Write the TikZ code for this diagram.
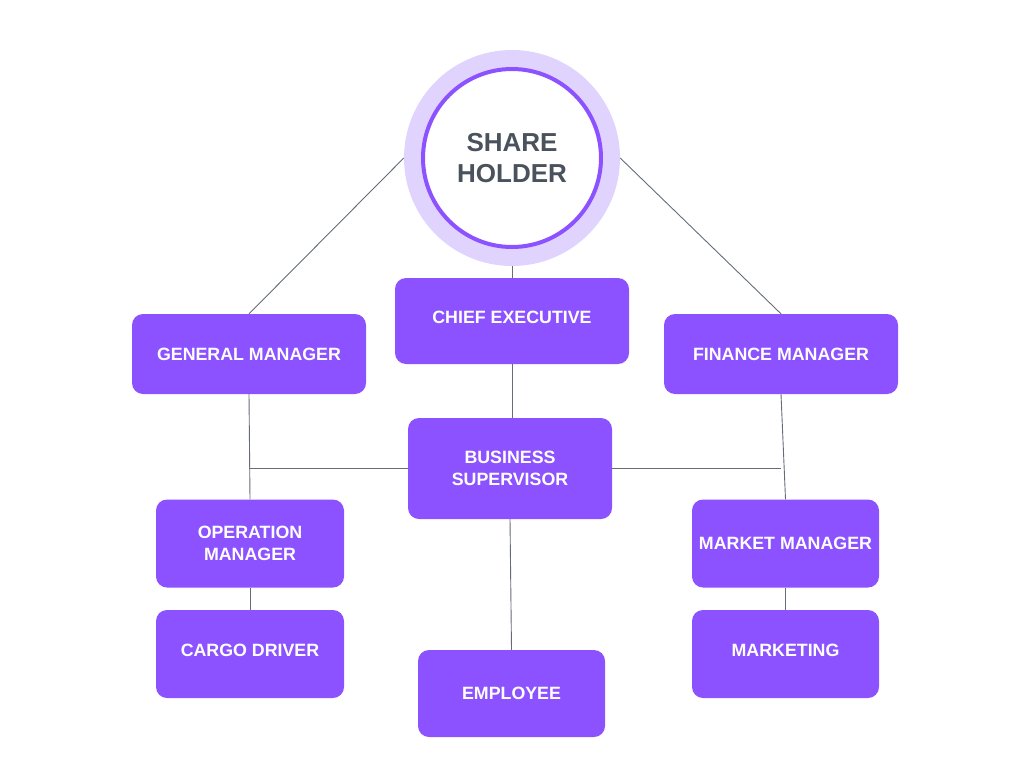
\documentclass[tikz,border=0pt]{standalone}
\usepackage{fontspec}
\setmainfont{Liberation Sans}
\definecolor{boxpurple}{HTML}{8C52FF}
\definecolor{ringlav}{HTML}{E0D4FF}
\definecolor{headgray}{HTML}{4A525D}
\definecolor{linegray}{HTML}{656C75}
\begin{document}
\begin{tikzpicture}[x=1pt,y=-1pt,
  orgbox/.style={fill=boxpurple, rounded corners=11pt, draw=none, text=white,
    font=\fontsize{17.8}{22}\selectfont\bfseries, align=center, inner sep=0pt},
  onebox/.style={orgbox, text height=12.5pt, text depth=8pt},
  conn/.style={draw=linegray, line width=0.9pt}]
\useasboundingbox (0,0) rectangle (1024,768);
% share holder
\fill[ringlav] (512,158) circle (108);
\node[circle, minimum size=216pt, inner sep=0pt] (sh) at (512,158) {};
\node[circle, fill=white, draw=boxpurple, line width=4pt, minimum size=178pt, inner sep=0pt,
  text=headgray, font=\fontsize{26}{31}\selectfont\bfseries, align=center] (shin) at (512,158) {SHARE\\HOLDER};
% boxes
\node[onebox, minimum width=234pt, minimum height=86pt] (ce) at (512,321) {CHIEF EXECUTIVE};
\node[orgbox, minimum width=234pt, minimum height=80pt] (gm) at (249,354) {GENERAL MANAGER};
\node[orgbox, minimum width=234pt, minimum height=80pt] (fm) at (781,354) {FINANCE MANAGER};
\node[orgbox, minimum width=204pt, minimum height=101pt] (bs) at (510,468.5) {BUSINESS\\SUPERVISOR};
\node[orgbox, minimum width=188pt, minimum height=88pt] (om) at (250,543.5) {OPERATION\\MANAGER};
\node[onebox, minimum width=188pt, minimum height=88pt] (cd) at (250,654) {CARGO DRIVER};
\node[orgbox, minimum width=187pt, minimum height=88pt] (mm) at (785.5,543.5) {MARKET MANAGER};
\node[onebox, minimum width=187pt, minimum height=88pt] (mk) at (785.5,654) {MARKETING};
\node[orgbox, minimum width=187pt, minimum height=87pt] (em) at (511.5,693.5) {EMPLOYEE};
% connectors
\coordinate (jl) at (gm.south |- bs.west);
\coordinate (jr) at (fm.south |- bs.east);
\draw[conn] (sh.west) -- (gm.north);
\draw[conn] (sh.east) -- (fm.north);
\draw[conn] (sh.south) -- (ce.north);
\draw[conn] (ce.south) -- (ce.south |- bs.north);
\draw[conn] (gm.south) -- (om.north);
\draw[conn] (bs.west) -- (jl);
\draw[conn] (fm.south) -- (mm.north);
\draw[conn] (bs.east) -- (jr);
\draw[conn] (om.south) -- (cd.north);
\draw[conn] (mm.south) -- (mk.north);
\draw[conn] (bs.south) -- (em.north);
\end{tikzpicture}
\end{document}
